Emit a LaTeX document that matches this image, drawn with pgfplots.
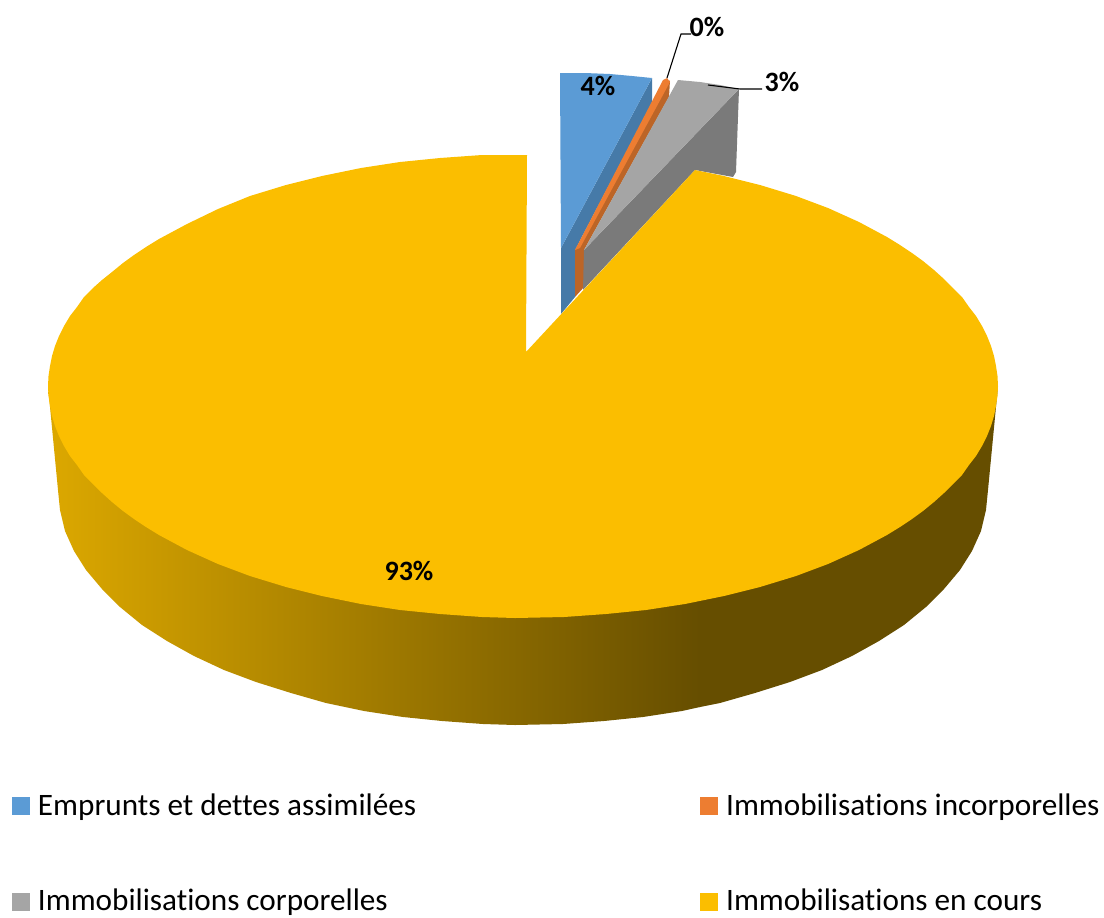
\documentclass[border=0pt]{standalone}
\usepackage{fontspec}
\setmainfont[Ligatures=NoCommon]{Carlito}
\usepackage{pgfplots}
\pgfplotsset{compat=1.18}
\definecolor{cBlue}{HTML}{5B9BD5}
\definecolor{cBlueD}{HTML}{467AA8}
\definecolor{cOrange}{HTML}{ED7D31}
\definecolor{cOrangeD}{HTML}{BC6527}
\definecolor{cGrey}{HTML}{A5A5A5}
\definecolor{cGreyD}{HTML}{7A7A7A}
\definecolor{cYellow}{HTML}{FBBE00}
\definecolor{cWallL}{HTML}{DCA800}
\definecolor{cWallM}{HTML}{B08600}
\definecolor{cWallD}{HTML}{664E00}
\begin{document}
\begin{tikzpicture}
\begin{axis}[
  scale only axis, width=552pt, height=458.5pt,
  xmin=0, xmax=1104, ymin=0, ymax=917, y dir=reverse,
  axis line style={draw=none}, ticks=none, clip=false,
  legend columns=2,
  legend cell align=left,
  legend image code/.code={\fill[#1] (0pt,-4.5pt) rectangle (9pt,4.5pt); \path (13pt,0pt);},
  legend style={draw=none, fill=none, at={(axis cs:12,794)}, anchor=north west,
    inner sep=0pt, outer sep=0pt, font=\fontsize{15.6}{18}\selectfont,
    row sep=35.3pt,
    /tikz/column 2/.style={column sep=142pt},
    nodes={inner sep=0pt, outer sep=0pt}},
]
% --- blue slice
\addplot[forget plot, draw=none, fill=cBlueD] coordinates {(652,78)(652,103)(575,250)(575,297)(561,314)(561,248)} -- cycle;
\addplot[draw=none, fill=cBlue] coordinates {(560,73)(585,73)(610,74)(632,76)(652,78)(561,248)} -- cycle;
\addlegendentry{Emprunts et dettes assimilées}
% --- orange slice
\addplot[forget plot, draw=none, fill=cOrangeD] coordinates {(670,80)(669,97)(584,250)(584,287)(575,297)(575,250)} -- cycle;
\addplot[draw=none, fill=cOrange] coordinates {(663,80)(667,78)(670,82)(580,248)(575,250)} -- cycle;
\addlegendentry{Immobilisations incorporelles}
% --- grey slice
\addplot[forget plot, draw=none, fill=cGreyD] coordinates {(739,89)(736,172)(733,177)(695,170)(583,290)(584,250)} -- cycle;
\addplot[draw=none, fill=cGrey] coordinates {(678,80)(700,82)(720,85)(739,89)(584,250)} -- cycle;
\addlegendentry{Immobilisations corporelles}
% --- wall of the big slice
\addplot[forget plot, draw=none, left color=cWallL, middle color=cWallM, right color=cWallD] coordinates {
 (48,386)(58,490)(60,510)(65,531)(74,551)(86,570)(102,589)(120,607)(142,625)(167,641)(194,656)(224,670)(256,682)(291,693)(326,703)(364,711)(403,717)(442,721)(483,724)(515,725)(563,724)(604,721)(643,717)(682,711)(700,707)(700,500)} -- cycle;
\addplot[forget plot, draw=none, fill=cWallD] coordinates {
 (699,500)(699,707.2)(720,703)(755,693)(790,682)(822,670)(852,656)(879,641)(904,625)(926,607)(944,589)(960,570)(972,551)(981,531)(986,510)(988,490)(998,386)} -- cycle;
% --- top of the big slice
\addplot[draw=none, fill=cYellow] coordinates {
 (526,352)(695,170)(724,176)(760,185)(796,196)(828,208)(859,222)(887,237)(900,245)(912,253)(923,261)(934,270)(944,279)(953,288)(962,297)(969,307)(976,316)(982,326)(987,336)(991,346)(994,356)(996,366)(997.5,376)
 (998,386)(997.5,396)(996,406)(994,416)(991,426)(987,436)(982,446)(976,456)(969,465)(962,475)(953,484)(944,493)(934,502)(923,511)(912,519)(900,527)(887,535)(859,550)(828,564)(796,576)(760,587)(724,596)(685,604)(646,610)(606,614)(564,617)
 (515,618)(482,617)(440,614)(400,610)(361,604)(322,596)(286,587)(250,576)(218,564)(187,550)(159,535)(146,527)(134,519)(123,511)(112,502)(102,493)(93,484)(84,475)(77,465)(70,456)(64,446)(59,436)(55,426)(52,416)(50,406)(48.5,396)
 (48,386)(48.5,376)(50,366)(52,356)(55,346)(59,336)(64,326)(70,316)(77,307)(84,297)(93,288)(102,280)(112,272)(123,263)(134,255)(146,247)(159,239)(187,224)(218,209)(250,196)(286,185)(322,176)(361,168)(400,162)(440,158)(482,155)(527,155)} -- cycle;
\addlegendentry{Immobilisations en cours}
% --- leader lines
\addplot[forget plot, black, line width=0.55pt] coordinates {(667,78)(681,34)(691,34)};
\addplot[forget plot, black, line width=0.55pt] coordinates {(708,85)(740,89)(762,89)};
% --- labels
\node[font=\bfseries\fontsize{14}{17}\selectfont, inner sep=0pt] at (axis cs:598,86) {4\%};
\node[font=\bfseries\fontsize{14}{17}\selectfont, inner sep=0pt] at (axis cs:707,27) {0\%};
\node[font=\bfseries\fontsize{14}{17}\selectfont, inner sep=0pt] at (axis cs:782,82) {3\%};
\node[font=\bfseries\fontsize{14}{17}\selectfont, inner sep=0pt] at (axis cs:409,571) {93\%};
\end{axis}
\end{tikzpicture}
\end{document}
